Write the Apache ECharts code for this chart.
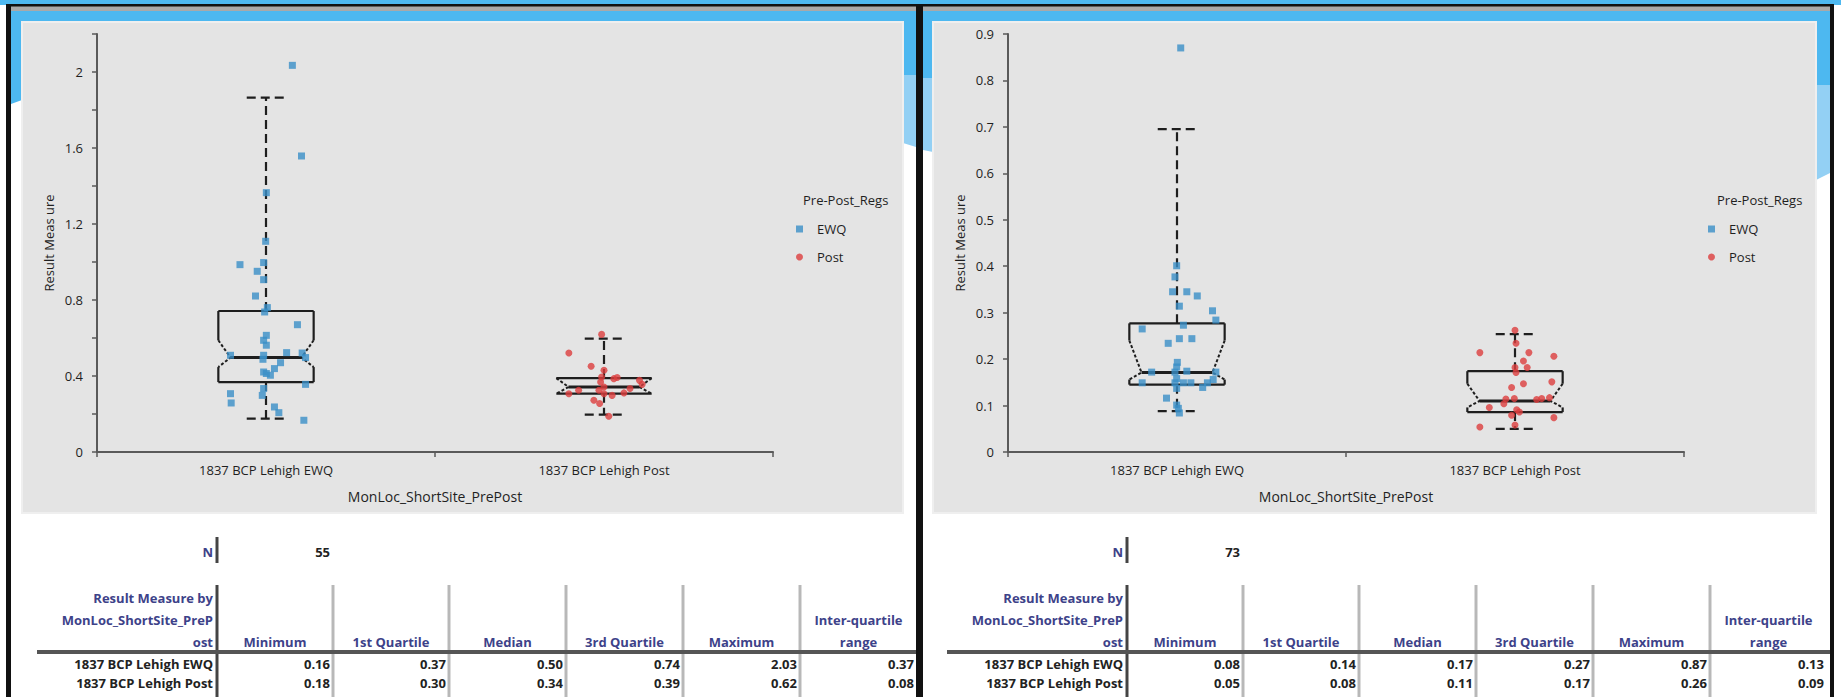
<!DOCTYPE html>
<html>
<head>
<meta charset="utf-8">
<script src="https://cdn.jsdelivr.net/npm/echarts@6/dist/echarts.min.js"></script>
<style>
html,body{margin:0;padding:0;background:#ffffff;}
#chart{width:1841px;height:697px;}
</style>
</head>
<body>
<div id="chart"></div>
<script>
// ---------- DATA ----------
const categories = ['1837 BCP Lehigh EWQ', '1837 BCP Lehigh Post'];
const legendNames = ['EWQ', 'Post'];
const legendTitle = 'Pre-Post_Regs';
const xAxisTitle = 'MonLoc_ShortSite_PrePost';
const yAxisTitle = 'Result Meas ure';

const leftYTicks = [0, 0.4, 0.8, 1.2, 1.6, 2];
const rightYTicks = [0, 0.1, 0.2, 0.3, 0.4, 0.5, 0.6, 0.7, 0.8, 0.9];

// left chart box statistics (per category)
const leftLowWhisker = [0.176, 0.197];
const leftQ1 = [0.368, 0.307];
const leftNotchLow = [0.447, 0.307];
const leftMedian = [0.497, 0.342];
const leftNotchHigh = [0.588, 0.389];
const leftQ3 = [0.742, 0.389];
const leftHighWhisker = [1.865, 0.597];

// right chart box statistics
const rightLowWhisker = [0.088, 0.050];
const rightQ1 = [0.145, 0.086];
const rightNotchLow = [0.156, 0.096];
const rightMedian = [0.171, 0.110];
const rightNotchHigh = [0.240, 0.147];
const rightQ3 = [0.277, 0.174];
const rightHighWhisker = [0.695, 0.254];

// left chart points (value, horizontal jitter in category units)
const leftEwqValues = [2.035,1.558,1.365,1.109,0.986,0.997,0.951,0.907,0.821,0.760,0.737,0.670,0.614,0.588,0.562,0.509,0.509,0.523,0.521,0.497,0.488,0.470,0.439,0.421,0.404,0.413,0.356,0.307,0.334,0.298,0.258,0.237,0.207,0.167];
const leftEwqJitter = [0.078,0.105,0.001,-0.001,-0.077,-0.007,-0.026,-0.007,-0.031,0.004,-0.004,0.093,0.001,-0.007,0.001,-0.105,-0.007,0.061,0.107,0.117,-0.009,0.043,0.025,-0.007,0.013,0.001,0.117,-0.105,-0.007,-0.011,-0.103,0.025,0.038,0.112];
const leftPostValues = [0.619,0.521,0.451,0.430,0.395,0.386,0.392,0.377,0.356,0.368,0.342,0.325,0.325,0.307,0.334,0.311,0.298,0.272,0.255,0.188,0.307];
const leftPostJitter = [-0.007,-0.104,-0.038,0.000,-0.007,0.029,0.039,0.105,0.113,-0.010,0.000,-0.015,-0.075,-0.104,0.077,0.059,0.024,-0.030,-0.013,0.014,0.000];

// right chart points
const rightEwqValues = [0.870,0.401,0.377,0.345,0.345,0.336,0.314,0.304,0.284,0.273,0.265,0.244,0.244,0.234,0.193,0.183,0.172,0.172,0.174,0.172,0.158,0.156,0.149,0.149,0.149,0.149,0.149,0.139,0.137,0.116,0.101,0.094,0.084];
const rightEwqJitter = [0.011,-0.001,-0.006,-0.013,0.029,0.060,0.007,0.105,0.115,0.019,-0.103,0.007,0.044,-0.026,0.001,-0.001,-0.075,-0.006,0.029,0.115,-0.001,0.107,-0.103,-0.006,0.019,0.041,0.090,0.076,-0.001,-0.031,-0.001,0.004,0.007];
const rightPostValues = [0.262,0.234,0.214,0.214,0.206,0.196,0.182,0.182,0.171,0.151,0.147,0.139,0.114,0.115,0.113,0.115,0.117,0.104,0.096,0.091,0.079,0.086,0.074,0.054,0.058];
const rightPostJitter = [0.000,0.003,-0.104,0.041,0.115,0.025,0.036,0.000,0.003,0.109,0.025,-0.010,-0.027,-0.002,0.064,0.079,0.102,-0.033,-0.076,0.005,-0.010,0.013,0.115,-0.104,0.000];

// summary tables
const nLabel = 'N';
const leftN = '55';
const rightN = '73';
const tableHeaderLines = ['Result Measure by', 'MonLoc_ShortSite_PreP', 'ost'];
const statHeaders = ['Minimum', '1st Quartile', 'Median', '3rd Quartile', 'Maximum', 'Inter-quartile|range'];
const rowLabels = ['1837 BCP Lehigh EWQ', '1837 BCP Lehigh Post'];
const leftStatsEwq = ['0.16', '0.37', '0.50', '0.74', '2.03', '0.37'];
const leftStatsPost = ['0.18', '0.30', '0.34', '0.39', '0.62', '0.08'];
const rightStatsEwq = ['0.08', '0.14', '0.17', '0.27', '0.87', '0.13'];
const rightStatsPost = ['0.05', '0.08', '0.11', '0.17', '0.26', '0.09'];

// ---------- STYLE ----------
const FONT = '"Open Sans", "Noto Sans", sans-serif';
const TXT = '#1f1f1f';
const BLUE = '#4db8f0';
const BLUE_LIGHT = '#93d0f4';
const EWQ_COLOR = '#3a8fc7';
const POST_COLOR = '#dc3d3d';
const HEAD_COLOR = '#3d4289';

function boxData(lw, q1, nl, med, nh, q3, hw) {
  return categories.map((c, i) => [i, lw[i], q1[i], nl[i], med[i], nh[i], q3[i], hw[i]]);
}
function pointData(vals, jit, cat) {
  return vals.map((v, i) => [cat + jit[i], v]);
}

function renderBox(params, api) {
  const i = api.value(0);
  const bw = api.size([1, 0])[0];
  const cx = api.coord([i, 0])[0];
  const Y = k => api.coord([i, api.value(k)])[1];
  const yLw = Y(1), yQ1 = Y(2), yNl = Y(3), yMed = Y(4), yNh = Y(5), yQ3 = Y(6), yHw = Y(7);
  const h = bw * 0.141, n = bw * 0.105, c = bw * 0.057;
  const col = '#1e1e1e';
  const solid = {stroke: col, lineWidth: 2.2, fill: null};
  const dotted = {stroke: col, lineWidth: 2, fill: null, lineDash: [3, 2]};
  const wdash = {stroke: col, lineWidth: 2.2, fill: null, lineDash: [9, 5]};
  const line = (x1, y1, x2, y2, style) => ({type: 'line', shape: {x1, y1, x2, y2}, style});
  const poly = (pts, style) => ({type: 'polyline', shape: {points: pts}, style});
  return {
    type: 'group',
    children: [
      line(cx, yQ3, cx, yHw, wdash),
      line(cx, yQ1, cx, yLw, wdash),
      line(cx - c, yHw, cx + c, yHw, wdash),
      line(cx - c, yLw, cx + c, yLw, wdash),
      line(cx - h, yQ3, cx + h, yQ3, solid),
      line(cx - h, yQ1, cx + h, yQ1, solid),
      line(cx - h, yQ3, cx - h, yNh, solid),
      line(cx + h, yQ3, cx + h, yNh, solid),
      line(cx - h, yNl, cx - h, yQ1, solid),
      line(cx + h, yNl, cx + h, yQ1, solid),
      poly([[cx - h, yNh], [cx - n, yMed], [cx - h, yNl]], dotted),
      poly([[cx + h, yNh], [cx + n, yMed], [cx + h, yNl]], dotted),
      line(cx - n, yMed, cx + n, yMed, {stroke: col, lineWidth: 3, fill: null})
    ]
  };
}

function catAxis(grid) {
  return {
    type: 'category', gridIndex: grid, data: categories,
    axisLine: {onZero: false, lineStyle: {color: '#5a5a5a', width: 2}},
    axisTick: {show: true, interval: 0, length: 5, lineStyle: {color: '#5a5a5a', width: 1.5}},
    axisLabel: {interval: 0, fontSize: 13, fontFamily: FONT, color: TXT, margin: 11},
    name: xAxisTitle, nameLocation: 'middle', nameGap: 37,
    nameTextStyle: {fontSize: 14, fontFamily: FONT, color: TXT},
    splitLine: {show: false}
  };
}
function hiddenX(grid) {
  return {type: 'value', gridIndex: grid, min: -0.5, max: 1.5, show: false};
}
function valAxis(grid, max, interval, ticks) {
  return {
    type: 'value', gridIndex: grid, min: 0, max: max, interval: interval,
    axisLine: {show: true, onZero: false, lineStyle: {color: '#5a5a5a', width: 2}},
    axisTick: {show: true, length: 5, lineStyle: {color: '#5a5a5a', width: 1.5}},
    axisLabel: {
      fontSize: 13, fontFamily: FONT, color: TXT, margin: 14,
      formatter: v => {
        const r = Math.round(v * 10) / 10;
        return ticks.some(t => Math.abs(t - r) < 1e-9) ? String(r) : '';
      }
    },
    splitLine: {show: false},
    name: yAxisTitle, nameLocation: 'middle', nameGap: 42, nameRotate: 90,
    nameTextStyle: {fontSize: 13, fontFamily: FONT, color: TXT}
  };
}

// ---------- BACKGROUND / FRAME GRAPHICS ----------
const g = [];
function rect(x, y, w, h, fill, z) { g.push({type: 'rect', z: z, silent: true, shape: {x, y, width: w, height: h}, style: {fill}}); }
function polygon(pts, fill, z) { g.push({type: 'polygon', z: z, silent: true, shape: {points: pts}, style: {fill}}); }
rect(0, 0, 1841, 5, BLUE, -20);
// inner grey strip + blue band
rect(11, 6, 905, 5, '#a9a9a9', -20);
rect(923, 6, 907, 5, '#a9a9a9', -20);
rect(11, 11, 905, 11, BLUE, -20);
rect(923, 11, 907, 11, BLUE, -20);
// side wave decorations
polygon([[11, 22], [22, 22], [22, 100], [11, 104]], BLUE, -20);
polygon([[903, 22], [916, 22], [916, 75], [903, 75]], BLUE, -20);
polygon([[903, 75], [916, 75], [916, 147], [903, 143]], BLUE_LIGHT, -20);
polygon([[923, 22], [933, 22], [933, 78], [923, 78]], BLUE, -20);
polygon([[923, 78], [933, 78], [933, 152], [923, 150]], BLUE_LIGHT, -20);
polygon([[1816, 22], [1830, 22], [1830, 85], [1816, 85]], BLUE, -20);
polygon([[1816, 85], [1830, 85], [1830, 173], [1816, 180]], BLUE_LIGHT, -20);
// black frame
rect(6, 4, 1828, 2.5, '#111', -15);
rect(6, 4, 5, 693, '#111', -15);
rect(916, 4, 7, 693, '#111', -15);
rect(1830, 4, 4, 693, '#111', -15);
// chart panels
g.push({type: 'rect', z: -12, silent: true, shape: {x: 22, y: 22, width: 881, height: 491}, style: {fill: '#e4e4e4', stroke: '#efefef', lineWidth: 2}});
g.push({type: 'rect', z: -12, silent: true, shape: {x: 933, y: 22, width: 883, height: 491}, style: {fill: '#e4e4e4', stroke: '#efefef', lineWidth: 2}});

// legend titles
function text(x, y, str, opts) {
  g.push({type: 'text', z: 10, x: x, y: y, style: Object.assign({text: str, font: '13px ' + FONT, fill: TXT, align: 'left', verticalAlign: 'middle'}, opts || {})});
}
text(803, 200, legendTitle);
text(1717, 200, legendTitle);

// tables
function table(x0, nValue, rowA, rowB, rightEnd) {
  const bold = 'bold 13px ' + FONT;
  text(213 + x0, 552, nLabel, {align: 'right', font: bold, fill: HEAD_COLOR});
  rect(215.5 + x0, 537, 3, 26, '#444', 5);
  text(330 + x0, 552, nValue, {align: 'right', font: bold, fill: '#222'});
  tableHeaderLines.forEach((s, k) => text(213 + x0, 598 + k * 22, s, {align: 'right', font: bold, fill: HEAD_COLOR}));
  rect(215.5 + x0, 585, 3, 112, '#444', 5);
  const cols = [217, 333, 449, 566, 683, 800, 917];
  for (let k = 1; k < 6; k++) rect(cols[k] - 1.5 + x0, 585, 3, 112, '#b8b8b8', 5);
  rect(37 + x0, 650, rightEnd - 37 - x0, 4, '#555', 6);
  statHeaders.forEach((s, k) => {
    const cxh = (cols[k] + cols[k + 1]) / 2 + x0;
    const parts = s.split('|');
    parts.forEach((p, j) => text(cxh, 642 - (parts.length - 1 - j) * 22, p, {align: 'center', font: bold, fill: HEAD_COLOR}));
  });
  text(213 + x0, 664, rowLabels[0], {align: 'right', font: bold, fill: '#222'});
  text(213 + x0, 683, rowLabels[1], {align: 'right', font: bold, fill: '#222'});
  rowA.forEach((s, k) => text(cols[k + 1] - 3 + x0, 664, s, {align: 'right', font: bold, fill: '#222'}));
  rowB.forEach((s, k) => text(cols[k + 1] - 3 + x0, 683, s, {align: 'right', font: bold, fill: '#222'}));
}
table(0, leftN, leftStatsEwq, leftStatsPost, 916);
table(910, rightN, rightStatsEwq, rightStatsPost, 1830);

// ---------- CHART ----------
const chart = echarts.init(document.getElementById('chart'), null, {renderer: 'svg'});
function legend(left) {
  return {
    orient: 'vertical', left: left, top: 217, itemWidth: 7, itemHeight: 7, itemGap: 14,
    data: [{name: legendNames[0], icon: 'rect'}, {name: legendNames[1], icon: 'circle'}],
    textStyle: {fontSize: 13, fontFamily: FONT, color: TXT, lineHeight: 14, padding: [0, 0, 0, 9]},
    selectedMode: false
  };
}
chart.setOption({
  animation: false,
  backgroundColor: '#ffffff',
  graphic: {elements: g},
  grid: [
    {left: 97, top: 34, width: 676, height: 418},
    {left: 1008, top: 34, width: 676, height: 418}
  ],
  xAxis: [catAxis(0), hiddenX(0), catAxis(1), hiddenX(1)],
  yAxis: [valAxis(0, 2.2, 0.2, leftYTicks), valAxis(1, 0.9, 0.1, rightYTicks)],
  legend: [legend(791), legend(1703)],
  series: [
    {name: 'box-left', type: 'custom', xAxisIndex: 0, yAxisIndex: 0, renderItem: renderBox,
     encode: {x: 0, y: [1, 2, 3, 4, 5, 6, 7]}, z: 2, silent: true,
     data: boxData(leftLowWhisker, leftQ1, leftNotchLow, leftMedian, leftNotchHigh, leftQ3, leftHighWhisker)},
    {name: legendNames[0], type: 'scatter', xAxisIndex: 1, yAxisIndex: 0, symbol: 'rect', symbolSize: 7, z: 3,
     itemStyle: {color: EWQ_COLOR}, data: pointData(leftEwqValues, leftEwqJitter, 0)},
    {name: legendNames[1], type: 'scatter', xAxisIndex: 1, yAxisIndex: 0, symbol: 'circle', symbolSize: 7, z: 3,
     itemStyle: {color: POST_COLOR}, data: pointData(leftPostValues, leftPostJitter, 1)},
    {name: 'box-right', type: 'custom', xAxisIndex: 2, yAxisIndex: 1, renderItem: renderBox,
     encode: {x: 0, y: [1, 2, 3, 4, 5, 6, 7]}, z: 2, silent: true,
     data: boxData(rightLowWhisker, rightQ1, rightNotchLow, rightMedian, rightNotchHigh, rightQ3, rightHighWhisker)},
    {name: legendNames[0], type: 'scatter', xAxisIndex: 3, yAxisIndex: 1, symbol: 'rect', symbolSize: 7, z: 3,
     itemStyle: {color: EWQ_COLOR}, data: pointData(rightEwqValues, rightEwqJitter, 0)},
    {name: legendNames[1], type: 'scatter', xAxisIndex: 3, yAxisIndex: 1, symbol: 'circle', symbolSize: 7, z: 3,
     itemStyle: {color: POST_COLOR}, data: pointData(rightPostValues, rightPostJitter, 1)}
  ]
});
</script>
</body>
</html>
